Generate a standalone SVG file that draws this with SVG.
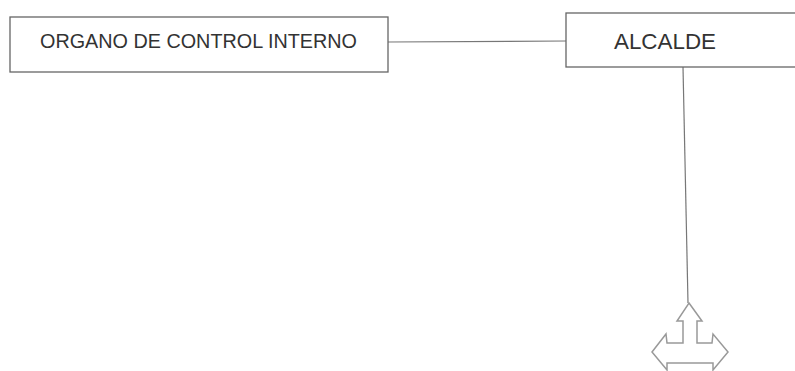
<svg xmlns="http://www.w3.org/2000/svg" width="795" height="371" viewBox="0 0 795 371">
<style>
.box{fill:#fff;stroke:#666;stroke-width:1.3}
.lbl{font-family:"Liberation Sans",Arial,sans-serif;fill:#333}
.con{stroke:#777;stroke-width:1.2;fill:none}
.arr{fill:#fff;stroke:#999;stroke-width:1.5;stroke-linejoin:miter}
</style>
<rect width="795" height="371" fill="#fff"/>
<g id="connectors">
<line class="con" x1="388" y1="42" x2="566" y2="41"/>
<line class="con" x1="683" y1="67" x2="688" y2="303"/>
</g>
<g id="organo">
<rect class="box" x="10" y="17" width="378" height="55"/>
<text class="lbl" x="40" y="48" font-size="19.7" textLength="317" lengthAdjust="spacingAndGlyphs">ORGANO DE CONTROL INTERNO</text>
</g>
<g id="alcalde">
<rect class="box" x="566" y="13" width="240" height="54"/>
<text class="lbl" x="614" y="49" font-size="22" textLength="102" lengthAdjust="spacingAndGlyphs">ALCALDE</text>
</g>
<g id="arrow">
<polygon class="arr" points="689,303 702,321 697,321 697,343 712,343 713,334 728,352 713,370 713,363 667,363 667,370 652,352 666,334 667,343 683,343 683,321 677,321"/>
</g>
</svg>
